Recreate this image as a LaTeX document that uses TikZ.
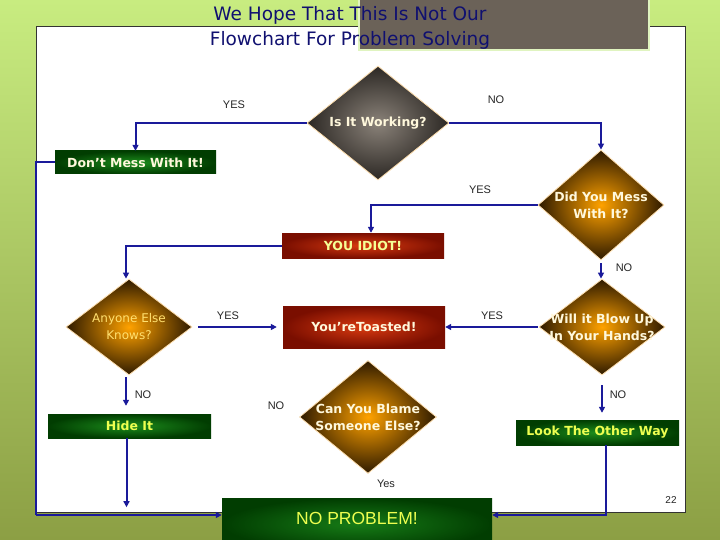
\documentclass[tikz,border=0pt]{standalone}
\usepackage{fontspec}
\setmainfont{DejaVu Sans}
\newfontfamily\lblfont{Liberation Sans}
\usetikzlibrary{shapes.geometric,arrows.meta}
\definecolor{bgtop}{HTML}{C8EC80}
\definecolor{bgbot}{HTML}{8C9F44}
\definecolor{linkblue}{HTML}{1A1A9A}
\definecolor{graybox}{HTML}{6B6258}
\definecolor{boxedge}{HTML}{E0F4C0}
\definecolor{titleblue}{HTML}{101070}
\definecolor{wgin}{HTML}{8A8279}
\definecolor{wgout}{HTML}{2C2824}
\definecolor{orin}{HTML}{FFA200}
\definecolor{orout}{HTML}{2E1A00}
\definecolor{redin}{HTML}{D83A10}
\definecolor{redout}{HTML}{7A0E00}
\definecolor{grin}{HTML}{1C8C1C}
\definecolor{grout}{HTML}{013D01}
\definecolor{cream}{HTML}{FFF8DC}
\definecolor{yeltxt}{HTML}{EEFF50}
\definecolor{anytxt}{HTML}{FFE070}
\begin{document}
\begin{tikzpicture}[x=1pt,y=-1pt,
  dia/.style={diamond, draw=cream!80!orange, line width=0.8pt, inner sep=0pt},
  graydia/.style={dia, inner color=wgin, outer color=wgout},
  ordia/.style={dia, inner color=orin, outer color=orout},
  dtext/.style={align=center, font=\bfseries\fontsize{12.5}{17}\selectfont, text=cream, inner sep=0pt},
  boxg/.style={rectangle, inner sep=0pt, inner color=grin, outer color=grout},
  boxr/.style={rectangle, inner sep=0pt, inner color=redin, outer color=redout},
  btext/.style={font=\bfseries\fontsize{12.5}{16}\selectfont, inner sep=0pt},
  lbl/.style={font=\lblfont\fontsize{11}{13}\selectfont, text=black!85, inner sep=0pt},
  conn/.style={draw=linkblue, line width=2pt},
  arr/.style={conn, -{Triangle[length=6pt,width=6pt]}}]
\clip (0,0) rectangle (720,540);
\shade[top color=bgtop, bottom color=bgbot] (0,0) rectangle (720,540);
\draw[fill=white, draw=black!80, line width=0.8pt] (36,26) rectangle (685,512);
\draw[fill=graybox, draw=boxedge, line width=2.5pt] (359,-5) rectangle (649,50);
\node[align=center, text=titleblue, font=\fontsize{18.5}{25}\selectfont, inner sep=0pt] (title) at (350,27.5) {We Hope That This Is Not Our\\Flowchart For Problem Solving};

% diamonds
\node[graydia, minimum width=142pt, minimum height=114pt] (w1) at (378,123) {};
\node[dtext] (w1t) at (w1) {Is It Working?};
\node[ordia, minimum width=126pt, minimum height=110pt] (d2) at (601,205) {};
\node[dtext] (d2t) at (d2) {Did You Mess\\With It?};
\node[ordia, minimum width=126pt, minimum height=96pt] (wb) at (602,327) {};
\node[dtext] (wbt) at (wb) {Will it Blow Up\\In Your Hands?};
\node[ordia, minimum width=126pt, minimum height=96pt] (ae) at (129,327) {};
\node[dtext, font=\fontsize{12}{17}\selectfont, text=anytxt] (aet) at (ae) {Anyone Else\\Knows?};
\node[ordia, minimum width=137pt, minimum height=113pt] (cb) at (368,417) {};
\node[dtext] (cbt) at (cb) {Can You Blame\\Someone Else?};

% boxes
\node[boxg, minimum width=161pt, minimum height=23pt] (dm) at (135.5,162.5) {};
\node[btext, text=cream] (dmt) at (dm) {Don't Mess With It!};
\node[boxr, minimum width=162pt, minimum height=25pt] (idiot) at (363,245.5) {};
\node[btext, text=yeltxt!60!white] (idiott) at (idiot) {YOU IDIOT!};
\node[boxr, minimum width=162pt, minimum height=42pt] (toast) at (364,327) {};
\node[btext, text=cream] (toastt) at (toast) {You'reToasted!};
\node[boxg, minimum width=163pt, minimum height=24pt] (hide) at (129.5,426) {};
\node[btext, text=yeltxt] (hidet) at (hide) {Hide It};
\node[boxg, minimum width=163pt, minimum height=25pt] (look) at (597.5,432.5) {};
\node[btext, text=yeltxt] (lookt) at (look) {Look The Other Way};
\node[boxg, inner color=grin!80!grout, minimum width=270pt, minimum height=52pt] (np) at (357,524) {};
\node[font=\lblfont\fontsize{17.5}{20}\selectfont, text=yeltxt, inner sep=0pt] (npt) at (357,518) {NO PROBLEM!};

% labels
\node[lbl] (l1) at (234,105) {YES};
\node[lbl] (l2) at (496,100) {NO};
\node[lbl] (l3) at (480,190) {YES};
\node[lbl] (l4) at (624,268) {NO};
\node[lbl] (l5) at (228,316) {YES};
\node[lbl] (l6) at (492,316) {YES};
\node[lbl] (l7) at (143,395) {NO};
\node[lbl] (l8) at (276,406) {NO};
\node[lbl] (l9) at (618,395) {NO};
\node[lbl] (l10) at (386,484) {Yes};
\node[lbl, font=\lblfont\fontsize{10}{12}\selectfont] (pg) at (671,500) {22};

% connectors
\coordinate (bl) at (36,515);
\coordinate (br) at (606,515);
\path (hide.south) ++(0,69) coordinate (hb);
\draw[arr] (w1.west) -| (dm.north);
\draw[arr] (w1.east) -| (d2.north);
\draw[arr] (d2.west) -| ([xshift=8pt]idiot.north);
\draw[arr] (idiot.west) -| ([xshift=-3pt]ae.north);
\draw[arr, shorten <=3pt] (d2.south) -- (d2.south |- wb.north);
\draw[arr, shorten <=6pt, shorten >=6pt] (ae.east) -- (toast.west);
\draw[arr, shorten <=1pt] (wb.west) -- (toast.east);
\draw[arr, shorten <=2pt, shorten >=8pt] ([xshift=-3pt]ae.south) -- ([xshift=-3pt]ae.south |- hide.north);
\draw[arr] ([xshift=-3pt]hide.south) -- ([xshift=-3pt]hb);
\draw[arr, shorten <=10pt, shorten >=7pt] (wb.south) -- (wb.south |- look.north);
\draw[conn] (dm.west) -| (bl);
\draw[arr] (bl) -- (bl -| np.west);
\draw[arr] ([xshift=8.5pt]look.south) -- (br) -- (br -| np.east);
\end{tikzpicture}
\end{document}
